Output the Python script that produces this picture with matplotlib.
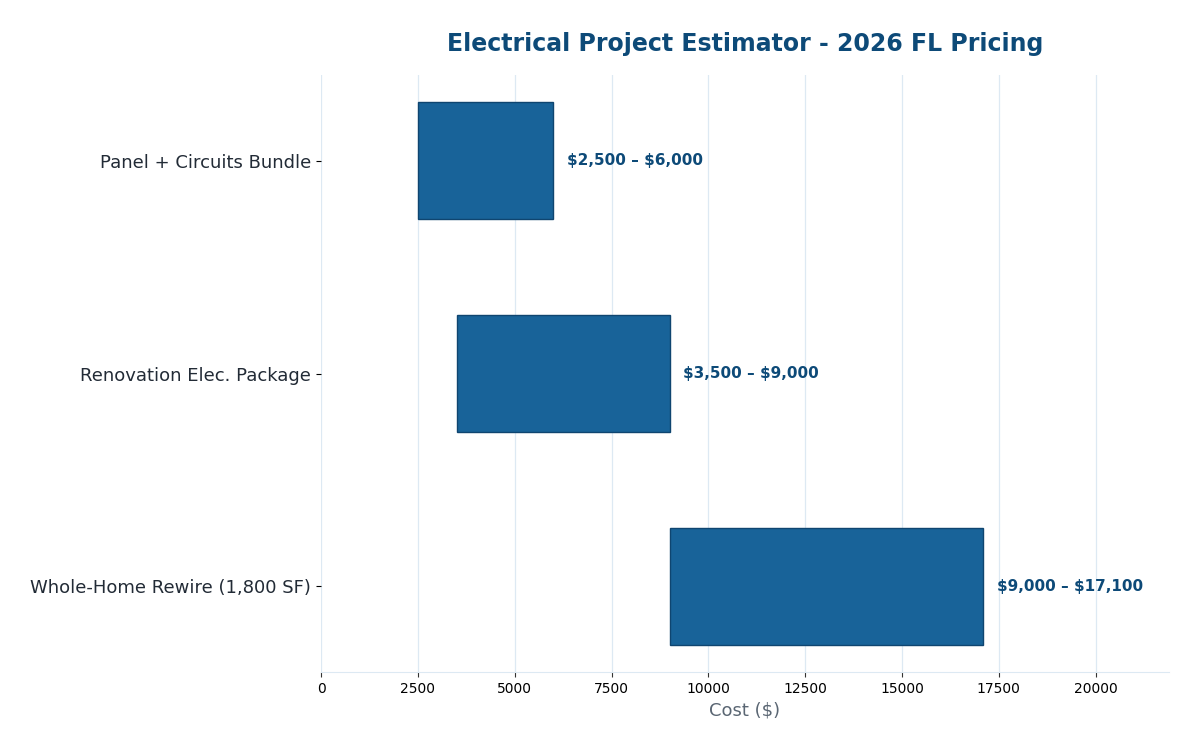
import numpy as np
import matplotlib.pyplot as plt

# project ranges (low / high cost)
projects = ["Panel + Circuits Bundle", "Renovation Elec. Package", "Whole-Home Rewire (1,800 SF)"]
low = [2500, 3500, 9000]
high = [6000, 9000, 17100]

fig, ax = plt.subplots(figsize=(12, 7.5), dpi=100)
y = np.arange(len(projects))
widths = [h - l for l, h in zip(low, high)]
ax.barh(y, widths, left=low, height=0.55, color="#186399", edgecolor="#0f4570", linewidth=1, zorder=3)

for yi, l, h in zip(y, low, high):
    ax.text(h + 340, yi, f"\\${l:,} – \\${h:,}", va="center", ha="left",
            fontsize=11, fontweight="bold", color="#0d4a78", zorder=4)

ax.set_yticks(y)
ax.set_yticklabels(projects, fontsize=13, color="#222b36")
ax.invert_yaxis()
ax.set_xlim(0, max(high) * 1.28)
ax.tick_params(axis="x", labelsize=10, color="#333333")
ax.set_xlabel("Cost (\\$)", fontsize=13, color="#5a6673")
ax.set_title("Electrical Project Estimator - 2026 FL Pricing", fontsize=17,
             fontweight="bold", color="#0d4a78", pad=17)

ax.grid(axis="x", color="#dde9f3", linewidth=0.9, zorder=0)
for s in ["top", "right", "left"]:
    ax.spines[s].set_visible(False)
ax.spines["bottom"].set_color("#dde9f3")

plt.subplots_adjust(left=0.2675, right=0.974, top=0.9, bottom=0.104)
plt.savefig("out.png", dpi=100)
